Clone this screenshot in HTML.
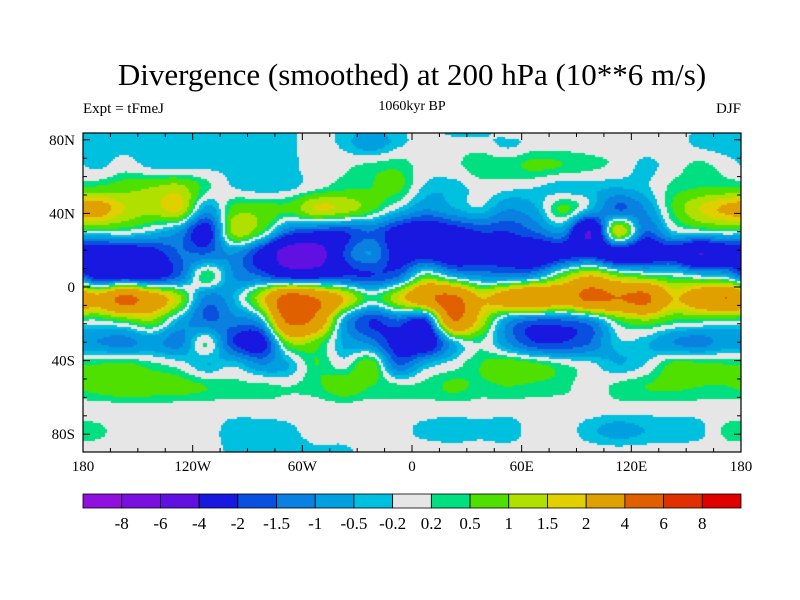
<!DOCTYPE html>
<html><head><meta charset="utf-8">
<style>
body{margin:0;background:#fff;width:800px;height:600px;overflow:hidden;font-family:"Liberation Serif",serif;}
#wrap{position:relative;width:800px;height:600px;}
.t{position:absolute;white-space:nowrap;color:#000;}
canvas{position:absolute;left:83px;top:133px;}
svg{position:absolute;left:0;top:0;}
</style></head><body>
<div id="wrap">
<div class="t" style="left:0;width:824px;text-align:center;top:57px;font-size:31px;">Divergence (smoothed) at 200 hPa (10**6 m/s)</div>
<div class="t" style="left:83px;top:101px;font-size:15px;">Expt = tFmeJ</div>
<div class="t" style="left:312px;width:200px;text-align:center;top:99px;font-size:14px;">1060kyr BP</div>
<div class="t" style="left:641px;width:100px;text-align:right;top:101px;font-size:15px;">DJF</div>
<canvas id="map" width="658" height="319"></canvas>
<svg id="ax" width="800" height="600"></svg>
</div>
<script>
const levels=[-8,-6,-4,-2,-1.5,-1,-0.5,-0.2,0.2,0.5,1,1.5,2,4,6,8];
const levelLabels=["-8","-6","-4","-2","-1.5","-1","-0.5","-0.2","0.2","0.5","1","1.5","2","4","6","8"];
const colors=["#9010e0","#7a10e0","#6010e0","#1818e0","#0a50e0","#0a80e0","#00a0e0","#00c0e0","#e6e6e6","#00e080","#50e000","#b0e000","#e0d000","#e0a000","#e06000","#e03000","#e00000"];
const lons=[-172.5,-157.5,-142.5,-127.5,-112.5,-97.5,-82.5,-67.5,-52.5,-37.5,-22.5,-7.5,7.5,22.5,37.5,52.5,67.5,82.5,97.5,112.5,127.5,142.5,157.5,172.5];
const lats=[84,78,66,54,42,30,18,6,-6,-18,-30,-42,-54,-66,-78,-90];
const r84=[-0.3,-0.3,-0.3,-0.3,-0.3,-0.4,-0.4,-0.3,0,-0.3,-0.6,-0.3,0,-0.3,-0.3,0,0,0,0,0,0,0,-0.3,-0.4];
const r78=[-0.3,-0.3,-0.3,-0.3,-0.3,-0.4,-0.4,-0.3,0,-0.3,-0.8,-0.3,0,0,0,-0.3,0,0,0,0,0,0,-0.3,-0.4];
const r66=[-0.3,0,-0.3,-0.4,-0.3,-0.3,-0.4,-0.3,0,0.1,0.3,0.4,0,0.1,0.4,0.4,0.6,0.5,0.3,0.1,-0.3,0,0.3,0];
const r54=[0.6,0.8,1,1.2,0.3,-0.2,-0.4,-0.3,0.1,0.4,0.5,0.6,-0.3,-0.4,0,-0.1,-0.2,-0.4,-0.4,-0.5,-0.3,0.3,0.5,0.5];
const r42=[2.5,1.5,1.2,1.6,-0.8,0.7,0.8,0.6,1.5,1.3,0.6,-0.3,-1,-0.6,-0.3,-1,-0.6,0.6,-0.5,-1.5,-1,0.5,1.5,2.2];
const r30=[0,0.1,-0.3,-1,-2.5,1.2,0.5,-1.5,-2,-2,-1.5,-2.5,-3,-2.5,-2,-2,-1.5,-1,-4,1.5,-1.5,-0.3,0,0.1];
const r18=[-3,-3,-2.5,-1.5,-1.5,-1,-2.5,-5,-5,-2,-1,-2.5,-2.5,-3,-2.5,-2.5,-3,-2.5,-2.5,-3,-3,-2.5,-4,-3];
const r6=[-2.5,-2.5,-2.5,-1.5,0.5,-1,-1.5,-2.5,-2.5,-2,-2,-1.5,0.5,-0.5,-1,-1.2,-0.8,0.8,2,1,0.5,0.2,-0.2,-0.5];
const rm6=[2.5,4.5,3,1.2,-1.2,-0.5,1.5,5,4,2,0.3,1.5,3.5,4.5,2,3,4,3,4.5,4,4.5,2,3,4];
const rm18=[0.2,0.6,1,-0.5,-1.5,-1.2,-0.5,4.5,3.5,-0.5,-2,-1.5,-2,4,1.5,-0.8,-1.5,-1.5,-1,0.5,1,0.5,0.4,0.3];
const rm30=[-1,-1.2,-0.8,-1.2,0.2,-2,-2.5,1,0.8,-0.6,-1.2,-2.5,-3,-0.5,0.2,-1,-2,-2,-1.5,-0.3,-0.4,-1,-1.2,-0.8];
const rm42=[0.5,0.6,0.3,0,-0.5,-0.3,-1,-0.5,0.5,0,0.8,-1.5,-0.5,0,0.5,0.8,0.6,0.2,-0.1,-0.5,-0.2,0.6,0.6,0.5];
const rm54=[0.7,0.9,0.8,0.7,0.5,0.3,0.3,0.2,0.4,0.8,0.5,0.3,0.3,0.6,0.4,0.5,0.4,0.3,0,0.3,0.5,0.6,0.5,0.5];
const rm66=[0,0,0,0,0,0,0,0,0,0,0,0,0,0,0,0,0,0,0,0,0,0,0,0];
const rm78=[0.3,0,0,0,0,-0.4,-0.4,-0.3,0,0,0,-0.1,-0.3,-0.4,-0.3,-0.4,0,0,-0.4,-0.7,-0.5,-0.4,-0.3,0.3];
const rm90=[0,0,0,0,0,-0.3,-0.4,-0.4,-0.3,-0.3,0,0,0,0,0,0,0,0,0,0,0,0,0,0];
const grid=[r84,r78,r66,r54,r42,r30,r18,r6,rm6,rm18,rm30,rm42,rm54,rm66,rm78,rm90];
const xTickLabels=["180","120W","60W","0","60E","120E","180"];
const xTickLons=[-180,-120,-60,0,60,120,180];
const yTickLabels=["80N","40N","0","40S","80S"];
const yTickLats=[80,40,0,-40,-80];

const X0=83,X1=741,Y0=133,Y1=452;
const xs=lon=>412+lon*(X1-X0)/360;
const ys=lat=>287-lat*1.84;

function cr(p0,p1,p2,p3,t){
  return 0.5*((2*p1)+(-p0+p2)*t+(2*p0-5*p1+4*p2-p3)*t*t+(-p0+3*p1-3*p2+p3)*t*t*t);
}
function rowVal(r,lon){
  const n=lons.length;
  const f=(lon-lons[0])/15;const c=Math.floor(f);const t=f-c;
  const g=k=>grid[r][((k%n)+n)%n];
  return cr(g(c-1),g(c),g(c+1),g(c+2),t);
}
function value(lon,lat){
  let r=0;while(r<lats.length-2&&lat<lats[r+1])r++;
  let t=(lats[r]-lat)/(lats[r]-lats[r+1]);t=Math.max(0,Math.min(1,t));
  const R=k=>rowVal(Math.max(0,Math.min(lats.length-1,k)),lon);
  return cr(R(r-1),R(r),R(r+1),R(r+2),t);
}
function colorOf(v){let k=0;while(k<levels.length&&v>=levels[k])k++;return colors[k];}

const cv=document.getElementById('map');const ctx=cv.getContext('2d');
const S=2;
for(let py=0;py<319;py+=S){
  const lat=(287-(Y0+py+S/2))/1.84;
  for(let px=0;px<658;px+=S){
    const lon=(X0+px+S/2-412)*360/(X1-X0);
    ctx.fillStyle=colorOf(value(lon,lat));
    ctx.fillRect(px,py,S,S);
  }
}

const NS='http://www.w3.org/2000/svg';
const svg=document.getElementById('ax');
function mk(tag,attrs){const e=document.createElementNS(NS,tag);for(const k in attrs)e.setAttribute(k,attrs[k]);svg.appendChild(e);return e;}
const frame=mk('rect',{x:X0,y:Y0,width:X1-X0,height:Y1-Y0,fill:'none',stroke:'#000','stroke-width':1.2});


for(let lon=-180;lon<=180;lon+=15){
  const major=lon%60===0;const x=xs(lon);const L=major?7:4;
  const t=mk('line',{x1:x,x2:x,y1:Y1,y2:Y1-L,stroke:'#000','stroke-width':1});
  
  
  const t2=mk('line',{x1:x,x2:x,y1:Y0,y2:Y0+L,stroke:'#000','stroke-width':1});
  
  
}
for(let lat=-80;lat<=80;lat+=10){
  const major=lat%40===0;const y=ys(lat);const L=major?7:4;
  const t=mk('line',{x1:X0,x2:X0+L,y1:y,y2:y,stroke:'#000','stroke-width':1});
  
  
  const t2=mk('line',{x1:X1,x2:X1-L,y1:y,y2:y,stroke:'#000','stroke-width':1});
  
  
}
xTickLabels.forEach((s,i)=>{
  const t=mk('text',{x:xs(xTickLons[i]),y:471,'text-anchor':'middle','font-size':15,'font-family':'Liberation Serif, serif'});
  t.textContent=s;
  
  
});
yTickLabels.forEach((s,i)=>{
  const t=mk('text',{x:75,y:ys(yTickLats[i])+5,'text-anchor':'end','font-size':15,'font-family':'Liberation Serif, serif'});
  t.textContent=s;
  
  
});
const bw=(X1-X0)/colors.length;
colors.forEach((c,i)=>{
  const r=mk('rect',{x:X0+i*bw,y:494,width:bw,height:14,fill:c,stroke:'#000','stroke-width':0.8});
  
  
});
levelLabels.forEach((s,i)=>{
  const t=mk('text',{x:X0+(i+1)*bw,y:529,'text-anchor':'middle','font-size':17,'font-family':'Liberation Serif, serif'});
  t.textContent=s;
  
  
});
</script>
</body></html>
